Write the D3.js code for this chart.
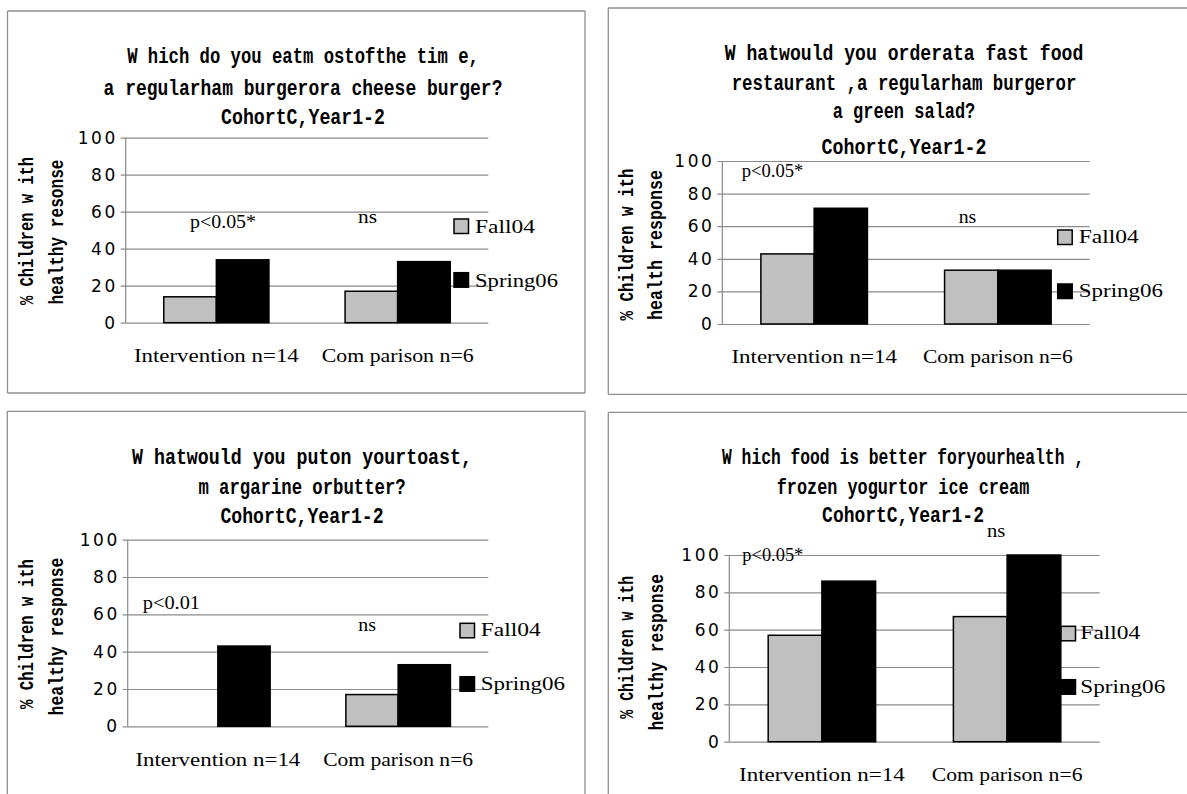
<!DOCTYPE html>
<html>
<head>
<meta charset="utf-8">
<script src="https://cdn.jsdelivr.net/npm/d3@7"></script>
<style>
  html, body { margin: 0; padding: 0; background: #ffffff; }
  svg { display: block; }
</style>
</head>
<body>
<svg id="fig" width="1187" height="794"></svg>
<script>
// ---- data ----------------------------------------------------------
const categories = ["Intervention n=14", "Com parison n=6"];
const seriesNames = ["Fall04", "Spring06"];
const yTicks = [0, 20, 40, 60, 80, 100];

// % of children giving the healthy answer, per group
const burgerFall   = [14, 17];
const burgerSpring = [34, 33];
const saladFall    = [43, 33];
const saladSpring  = [71, 33];
const toastFall    = [0, 17];
const toastSpring  = [43, 33];
const yogurtFall   = [57, 67];
const yogurtSpring = [86, 100];

const burgerTitle = ["W hich do you eatm ostofthe tim e,", "a regularham burgerora cheese burger?", "CohortC,Year1-2"];
const saladTitle  = ["W hatwould you orderata fast food", "restaurant ,a regularham burgeror", "a green salad?", "CohortC,Year1-2"];
const toastTitle  = ["W hatwould you puton yourtoast,", "m argarine orbutter?", "CohortC,Year1-2"];
const yogurtTitle = ["W hich food is better foryourhealth ,", "frozen yogurtor ice cream", "CohortC,Year1-2"];

const burgerAxisTitle = ["% Children w ith", "healthy resonse"];
const saladAxisTitle  = ["% Children w ith", "health response"];
const toastAxisTitle  = ["% Children w ith", "healthy response"];
const yogurtAxisTitle = ["% Children w ith", "healthy response"];

const burgerNotes = ["p<0.05*", "ns"];
const saladNotes  = ["p<0.05*", "ns"];
const toastNotes  = ["p<0.01", "ns"];
const yogurtNotes = ["p<0.05*", "ns"];

// ---- layout (pixel positions of each chart block) --------------------
// frame: [left, top, right, bottom]; edges: which sides of the frame are drawn
const layouts = [
  { frame: [7.5, 11, 585, 393], edges: ["top", "left", "right", "bottom"],
    left: 125.7, right: 488.3, y100: 137.7, y0: 322.7,
    titleX: 303, titleY: [63, 95, 124], titleW: [352, 399, 164],
    axisX: [33, 63], axisCY: [231, 232], axisW: [148, 145],
    catY: 361.7, catW: [165, 152],
    notes: [[190, 228, 66], [358, 223, 19]],
    legX: 454, legY: [219, 272.7], legTextX: 475, legBase: [233, 286.7], legW: [60, 83] },
  { frame: [608.3, 8, 1187, 394.3], edges: ["top", "left", "bottom"],
    left: 722.3, right: 1089.7, y100: 161, y0: 324,
    titleX: 904, titleY: [59.5, 89.5, 118.3, 154], titleW: [358.7, 345, 142.7, 165],
    axisX: [632.7, 662], axisCY: [244.5, 245], axisW: [152, 150],
    catY: 363.3, catW: [165.6, 150],
    notes: [[741.7, 176.7, 61.6], [958.7, 222.7, 17.6]],
    legX: 1057.7, legY: [230, 284], legTextX: 1078.7, legBase: [243.3, 296.7], legW: [60, 84.3] },
  { frame: [7.3, 411.3, 585, 794], edges: ["top", "left", "right"],
    left: 127.7, right: 488.3, y100: 539.7, y0: 726.3,
    titleX: 302, titleY: [464, 494, 523], titleW: [340, 207.4, 163.3],
    axisX: [33.3, 63], axisCY: [634, 636.5], axisW: [150, 158],
    catY: 765.7, catW: [165, 150],
    notes: [[142.7, 609, 57.3], [358.3, 631.3, 17.7]],
    legX: 460, legY: [623.3, 676.7], legTextX: 480.7, legBase: [636, 690], legW: [60, 84.3] },
  { frame: [608.3, 412.3, 1187, 794], edges: ["top", "left"],
    left: 729.3, right: 1099.7, y100: 555, y0: 741.7,
    titleX: 903, titleY: [464, 494, 522], titleW: [362, 252.7, 162],
    axisX: [633.3, 662.5], axisCY: [647.3, 652.3], axisW: [143, 156.7],
    catY: 780.7, catW: [166, 151],
    notes: [[742.3, 560.7, 61], [987, 537, 18.3]],
    legX: 1061, legY: [626.3, 679.7], legTextX: 1080.3, legBase: [639, 693.3], legW: [60, 85] }
];

const charts = [
  { title: burgerTitle, axisTitle: burgerAxisTitle, fall: burgerFall, spring: burgerSpring, notes: burgerNotes },
  { title: saladTitle,  axisTitle: saladAxisTitle,  fall: saladFall,  spring: saladSpring,  notes: saladNotes },
  { title: toastTitle,  axisTitle: toastAxisTitle,  fall: toastFall,  spring: toastSpring,  notes: toastNotes },
  { title: yogurtTitle, axisTitle: yogurtAxisTitle, fall: yogurtFall, spring: yogurtSpring, notes: yogurtNotes }
];

// ---- styles ----------------------------------------------------------
const GRID = "#8a8a8a";
const FRAME = "#8f8f8f";
const FALL_FILL = "#c0c0c0";
const SPRING_FILL = "#000000";
const TITLE_FONT = "'Liberation Mono', 'Courier New', monospace";
const SERIF_FONT = "'Liberation Serif', 'Times New Roman', serif";
const TICK_FONT = "'DejaVu Sans', sans-serif";

const svg = d3.select("#fig");

// Text squeezed horizontally to a given width, centred on (cx, baseline).
// `pre` is an extra transform applied before the horizontal squeeze.
function squeezedText(g, str, cx, y, w, font, size, weight, pre) {
  const t = g.append("text")
    .attr("x", 0).attr("y", 0)
    .attr("text-anchor", "middle")
    .attr("font-family", font).attr("font-size", size)
    .attr("font-weight", weight || "normal")
    .attr("fill", "#000")
    .text(str);
  const natural = t.node().getComputedTextLength() || w;
  t.attr("transform", `translate(${cx},${y}) ${pre || ""} scale(${w / natural},1)`);
  return t;
}

function drawChart(c, L) {
  const g = svg.append("g");

  // outer frame of the chart block (only the sides inside the page)
  const [fx0, fy0, fx1, fy1] = L.frame;
  const sides = {
    top: [fx0, fy0, fx1, fy0], bottom: [fx0, fy1, fx1, fy1],
    left: [fx0, fy0, fx0, fy1], right: [fx1, fy0, fx1, fy1]
  };
  L.edges.forEach(e => {
    const s = sides[e];
    g.append("line")
      .attr("x1", s[0]).attr("y1", s[1]).attr("x2", s[2]).attr("y2", s[3])
      .attr("stroke", FRAME).attr("stroke-width", 1.3);
  });

  const y = d3.scaleLinear().domain([0, 100]).range([L.y0, L.y100]);
  const x0 = d3.scaleBand().domain(categories).range([L.left, L.right])
    .paddingInner(0.42).paddingOuter(0.21);
  const x1 = d3.scaleBand().domain(seriesNames).range([0, x0.bandwidth()]);

  // gridlines + value labels
  const ax = g.append("g")
    .attr("transform", `translate(${L.left},0)`)
    .call(d3.axisLeft(y).tickValues(yTicks)
      .tickSize(-(L.right - L.left)).tickSizeOuter(0).tickPadding(8));
  ax.select(".domain").remove();
  ax.selectAll(".tick line").attr("x1", -5).attr("stroke", GRID).attr("stroke-width", 1.2);
  ax.selectAll(".tick text")
    .attr("font-family", TICK_FONT).attr("font-size", 17)
    .attr("letter-spacing", 2.5).attr("fill", "#000");

  // vertical value axis
  g.append("line")
    .attr("x1", L.left).attr("x2", L.left)
    .attr("y1", y(100)).attr("y2", y(0))
    .attr("stroke", GRID).attr("stroke-width", 1.2);

  // bars
  const rows = categories.map((cat, i) => ({
    cat, values: [
      { s: seriesNames[0], v: c.fall[i] },
      { s: seriesNames[1], v: c.spring[i] }
    ]
  }));
  const grp = g.selectAll("g.grp").data(rows).join("g")
    .attr("class", "grp")
    .attr("transform", d => `translate(${x0(d.cat)},0)`);
  grp.selectAll("rect").data(d => d.values.filter(e => e.v > 0)).join("rect")
    .attr("x", d => x1(d.s))
    .attr("y", d => y(d.v))
    .attr("width", x1.bandwidth())
    .attr("height", d => y(0) - y(d.v))
    .attr("fill", d => d.s === seriesNames[0] ? FALL_FILL : SPRING_FILL)
    .attr("stroke", "#000").attr("stroke-width", 1.5);

  // category labels (ticks of a band axis, squeezed to their measured widths)
  const bx = g.append("g")
    .attr("transform", `translate(0,${L.catY})`)
    .call(d3.axisBottom(x0).tickSize(0).tickPadding(0));
  bx.select(".domain").remove();
  bx.selectAll(".tick text")
    .attr("x", 0).attr("y", 0).attr("dy", 0)
    .attr("font-family", SERIF_FONT).attr("font-size", 18.5).attr("fill", "#000")
    .attr("text-anchor", "middle")
    .each(function (d, i) {
      const n = this.getComputedTextLength() || L.catW[i];
      d3.select(this).attr("transform", `scale(${L.catW[i] / n},1)`);
    });

  // chart title
  c.title.forEach((line, i) => {
    squeezedText(g, line, L.titleX, L.titleY[i], L.titleW[i], TITLE_FONT, 22, "bold");
  });

  // value-axis title (two rotated lines)
  c.axisTitle.forEach((line, i) => {
    squeezedText(g, line, L.axisX[i], L.axisCY[i], L.axisW[i], TITLE_FONT, 21, "bold", "rotate(-90)");
  });

  // significance notes
  c.notes.forEach((note, i) => {
    const n = L.notes[i];
    squeezedText(g, note, n[0] + n[2] / 2, n[1], n[2], SERIF_FONT, 18.5, "normal");
  });

  // legend
  seriesNames.forEach((s, i) => {
    g.append("rect")
      .attr("x", L.legX).attr("y", L.legY[i])
      .attr("width", 14.5).attr("height", 14.5)
      .attr("fill", i === 0 ? FALL_FILL : SPRING_FILL)
      .attr("stroke", "#000").attr("stroke-width", 1.5);
    squeezedText(g, s, L.legTextX + L.legW[i] / 2, L.legBase[i], L.legW[i], SERIF_FONT, 19.5, "normal");
  });
}

charts.forEach((c, i) => drawChart(c, layouts[i]));
</script>
</body>
</html>
